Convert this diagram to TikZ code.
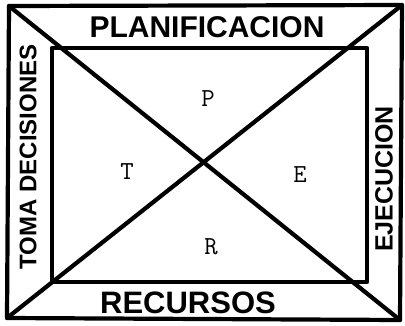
\documentclass[tikz,border=0pt]{standalone}
\usepackage{fontspec}
\newfontfamily\bandfont{Liberation Sans}
\usetikzlibrary{positioning}

\begin{document}
\begin{tikzpicture}[x=1pt, y=-1pt,
    frame/.style={line width=4.2pt, line join=round, line cap=round},
    band/.style={font=\bandfont\bfseries\fontsize{#1}{#1}\selectfont, inner sep=0pt},
    letter/.style={font=\ttfamily\fontsize{26}{26}\selectfont, inner sep=0pt}]
    \useasboundingbox (0,0) rectangle (405,325);

    % outer and inner frames
    \coordinate (NW) at (9,6);
    \coordinate (NE) at (402,5);
    \coordinate (SE) at (400,320);
    \coordinate (SW) at (7,318);
    \coordinate (nw) at (52,48);
    \coordinate (se) at (367,282);
    \draw[frame] (NW) -- (NE) -- (SE) -- (SW) -- cycle;
    \draw[frame] (nw) rectangle (se);
    \draw[frame] (NW) -- (SE);
    \draw[frame] (NE) -- (SW);

    % bands
    \node[band=30] (PLAN) at (207,27) {PLANIFICACION};
    \node[band=31] (REC) at (188,303) {RECURSOS};
    \node[band=24, rotate=90] (TOMA) at (28,157) {TOMA DECISIONES};
    \node[band=25, rotate=90] (EJE) at (384,179) {EJECUCION};

    % center letters
    \node[letter] (P) at (208,99) {P};
    \node[letter] (T) at (127,172) {T};
    \node[letter] (E) at (300,175) {E};
    \node[letter] (R) at (211,247) {R};
\end{tikzpicture}
\end{document}
